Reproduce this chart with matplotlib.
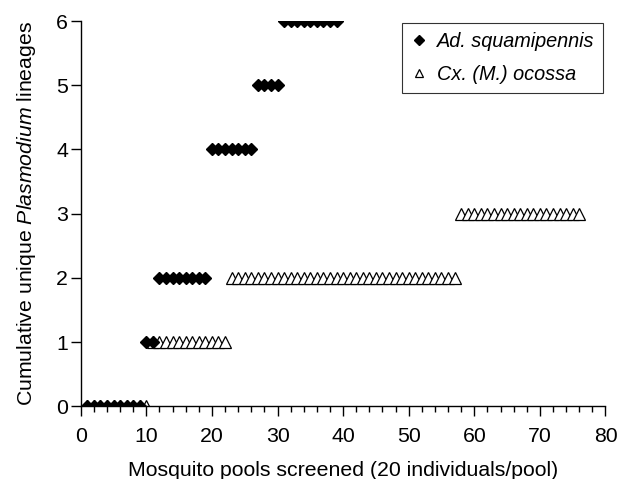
import matplotlib
matplotlib.use("Agg")
import matplotlib.pyplot as plt
from matplotlib.ticker import MultipleLocator

plt.rcParams['font.family'] = ['Liberation Sans', 'DejaVu Sans']
plt.rcParams['mathtext.fontset'] = 'custom'
plt.rcParams['mathtext.it'] = 'Liberation Sans:italic'
plt.rcParams['mathtext.rm'] = 'Liberation Sans'

# cumulative unique lineages per pool
ad_pools = list(range(1, 40))
ad_lineages = [0] * 9 + [1] * 2 + [2] * 8 + [4] * 7 + [5] * 4 + [6] * 9

cx_pools = list(range(1, 77))
cx_lineages = [0] * 10 + [1] * 12 + [2] * 35 + [3] * 19

fs = 15.3

fig = plt.figure(figsize=(6.21, 4.79), dpi=100)
ax = fig.add_axes([0.130, 0.152, 0.845, 0.804])

ax.plot(cx_pools, cx_lineages, linestyle='none', marker='^', markersize=8,
        markerfacecolor='white', markeredgecolor='black', markeredgewidth=0.9,
        label='Cx. (M.) ocossa', zorder=2)
ax.plot(ad_pools, ad_lineages, linestyle='none', marker='D', markersize=6.3,
        color='black', label='Ad. squamipennis', zorder=3)

ax.set_xlim(0, 80)
ax.set_ylim(0, 6)
ax.xaxis.set_major_locator(MultipleLocator(10))
ax.xaxis.set_minor_locator(MultipleLocator(2))
ax.yaxis.set_major_locator(MultipleLocator(1))
ax.tick_params(axis='both', which='major', direction='out', length=7,
               width=1, labelsize=fs, colors='black')
ax.tick_params(axis='x', which='major', pad=8)
ax.tick_params(axis='y', which='major', pad=2)
ax.tick_params(axis='x', which='minor', direction='out', length=4, width=1)
for s in ['top', 'right']:
    ax.spines[s].set_visible(False)
for s in ['left', 'bottom']:
    ax.spines[s].set_linewidth(1)
    ax.spines[s].set_clip_on(False)

ax.set_xlabel("Mosquito pools screened (20 individuals/pool)", fontsize=fs,
              labelpad=11)
ax.set_ylabel(r"Cumulative unique $\it{Plasmodium}$ lineages", fontsize=fs,
              labelpad=13)

handles, labels = ax.get_legend_handles_labels()
leg = ax.legend(handles[::-1], labels[::-1], loc='upper right',
                prop={'style': 'italic', 'size': 14.3}, frameon=True,
                fancybox=False, edgecolor='black', handletextpad=0.5,
                handlelength=0.8, borderpad=0.45, labelspacing=0.7,
                markerscale=0.75, borderaxespad=0.1,
                bbox_to_anchor=(1.0, 1.0))
leg.get_frame().set_linewidth(0.8)

fig.savefig("out.png", dpi=100)
